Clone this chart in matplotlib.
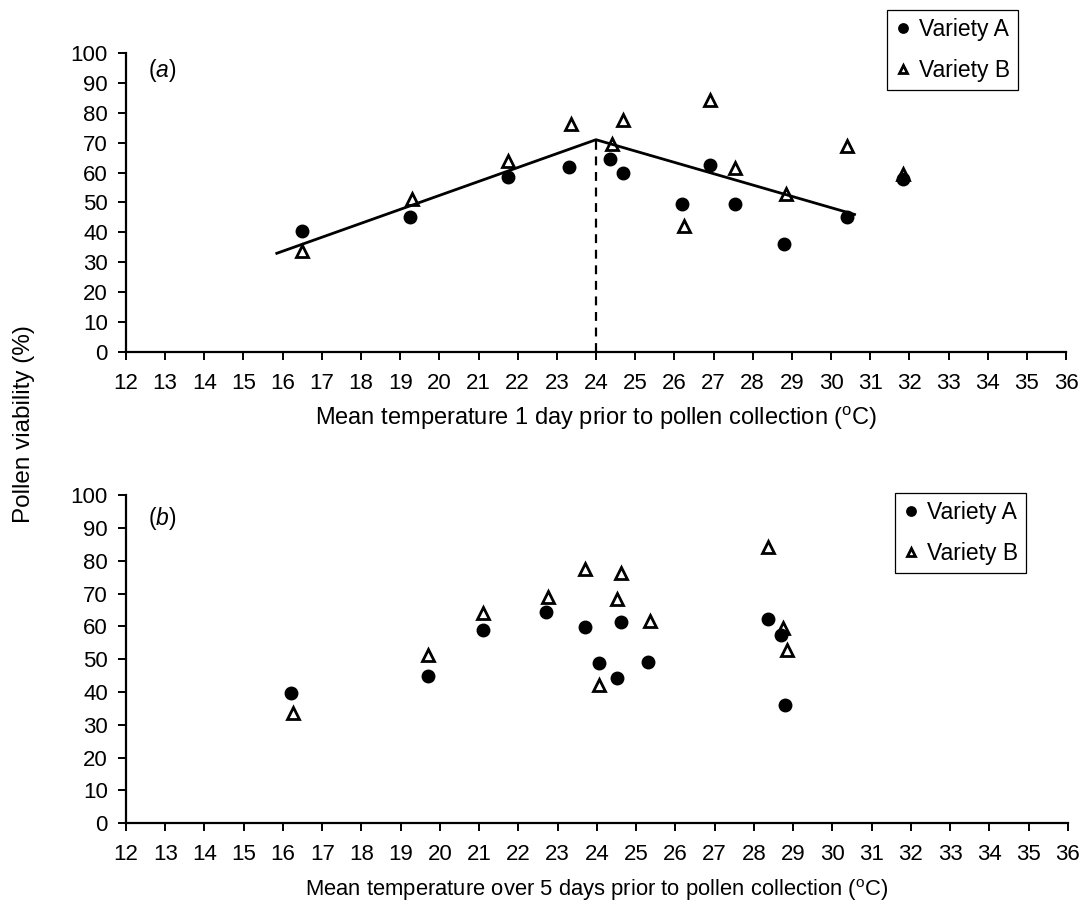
import numpy as np
import matplotlib
matplotlib.use("Agg")
import matplotlib.pyplot as plt

plt.rcParams['font.family'] = ['Liberation Sans', 'DejaVu Sans']
plt.rcParams['mathtext.fontset'] = 'custom'
plt.rcParams['mathtext.rm'] = 'Liberation Sans'
plt.rcParams['mathtext.it'] = 'Liberation Sans:italic'

# (a) mean temperature 1 day prior
a_temp_A = [16.5, 19.25, 21.75, 23.3, 24.35, 24.7, 26.2, 26.9, 27.55, 28.8, 30.4, 31.85]
a_via_A = [40.4, 45.2, 58.5, 62.0, 64.5, 60.0, 49.4, 62.7, 49.4, 36.0, 45.0, 57.8]
a_temp_B = [16.5, 19.3, 21.75, 23.35, 24.4, 24.7, 26.25, 26.9, 27.55, 28.85, 30.4, 31.85]
a_via_B = [33.7, 51.0, 64.0, 76.2, 69.5, 77.5, 42.0, 84.2, 61.5, 52.7, 68.9, 59.5]
# broken-stick fit, breakpoint at 24 C
fit_x = [15.85, 24.0, 30.6]
fit_y = [33.0, 71.0, 46.0]
breakpoint = 24.0

# (b) mean temperature over 5 days prior
b_temp_A = [16.2, 19.7, 21.1, 22.7, 23.7, 24.6, 24.05, 24.5, 25.3, 28.35, 28.7, 28.8]
b_via_A = [39.8, 44.9, 58.9, 64.5, 59.7, 61.4, 48.7, 44.4, 49.2, 62.2, 57.4, 35.9]
b_temp_B = [16.25, 19.7, 21.1, 22.75, 23.7, 24.6, 24.5, 25.35, 24.05, 28.35, 28.75, 28.85]
b_via_B = [33.7, 51.3, 64.0, 69.0, 77.6, 76.1, 68.3, 61.6, 42.1, 84.3, 59.4, 52.8]

xticks = list(range(12, 37))
yticks = list(range(0, 101, 10))

fig = plt.figure(figsize=(10.88, 9.09), dpi=100)
ax1 = fig.add_axes([0.1158, 0.6128, 0.864, 0.3289])
ax2 = fig.add_axes([0.1158, 0.0943, 0.8658, 0.3611])


def style(ax):
    ax.set_xlim(12, 36)
    ax.set_ylim(0, 100)
    ax.set_xticks(xticks)
    ax.set_yticks(yticks)
    for s in ['top', 'right']:
        ax.spines[s].set_visible(False)
    for s in ['left', 'bottom']:
        ax.spines[s].set_linewidth(1.6)
    ax.tick_params(axis='both', direction='out', length=6, width=1.4, labelsize=16)
    ax.tick_params(axis='x', pad=9)
    ax.tick_params(axis='y', pad=7)


def points(ax, tA, vA, tB, vB):
    ax.plot(tA, vA, 'o', color='black', markersize=9, linestyle='none',
            label='Variety A', clip_on=False, zorder=3)
    ax.plot(tB, vB, '^', markerfacecolor='none', markeredgecolor='black',
            markeredgewidth=2.0, markersize=8.5, linestyle='none',
            label='Variety B', clip_on=False, zorder=3)


def legend(ax, x, y):
    leg = ax.legend(loc='upper left', bbox_to_anchor=(x, y), bbox_transform=fig.transFigure,
                    fancybox=False, edgecolor='black', framealpha=1, fontsize=16.5,
                    handlelength=0.7, handletextpad=0.35, labelspacing=0.8,
                    borderpad=0.35, borderaxespad=0, markerscale=0.75)
    leg.get_frame().set_linewidth(0.9)


style(ax1)
points(ax1, a_temp_A, a_via_A, a_temp_B, a_via_B)
ax1.plot(fit_x, fit_y, color='black', linewidth=2.0, zorder=2)
ax1.plot([breakpoint, breakpoint], [0, fit_y[1]], color='black', linewidth=1.6,
         linestyle=(0, (4, 3)), zorder=2)
ax1.text(0.023, 0.94, r'($\mathit{a}$)', transform=ax1.transAxes, fontsize=16.5, va='center')
ax1.set_xlabel(r'Mean temperature 1 day prior to pollen collection ($^{\mathregular{o}}$C)',
               fontsize=17, labelpad=8)
legend(ax1, 0.815, 0.989)

style(ax2)
points(ax2, b_temp_A, b_via_A, b_temp_B, b_via_B)
ax2.text(0.023, 0.93, r'($\mathit{b}$)', transform=ax2.transAxes, fontsize=16.5, va='center')
ax2.set_xlabel(r'Mean temperature over 5 days prior to pollen collection ($^{\mathregular{o}}$C)',
               fontsize=15.8, labelpad=9)
legend(ax2, 0.8226, 0.4576)

fig.text(0.022, 0.5335, 'Pollen viability (%)', rotation=90, fontsize=17.5,
         ha='center', va='center')

fig.savefig('out.png', dpi=100)
